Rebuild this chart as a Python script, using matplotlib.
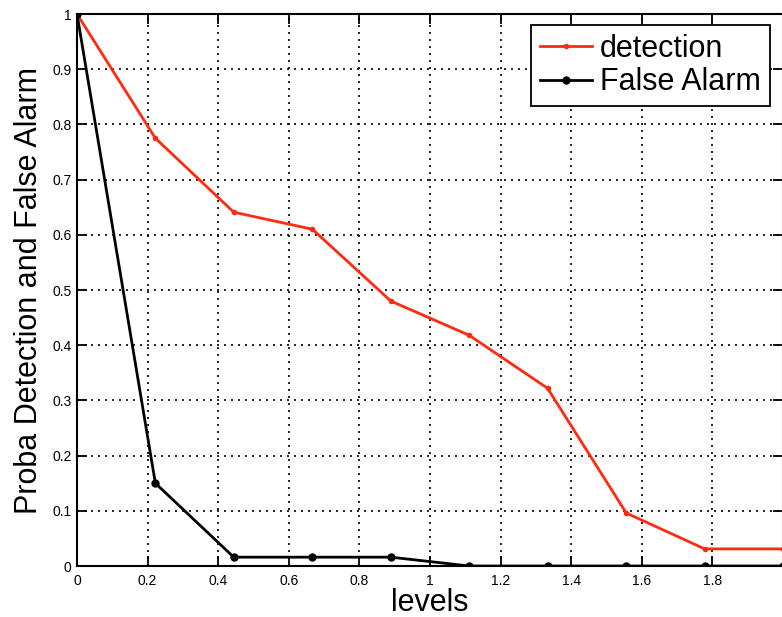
import matplotlib
matplotlib.use("Agg")
import matplotlib.pyplot as plt

plt.rcParams["font.family"] = ["Liberation Sans", "DejaVu Sans"]

# levels (10 thresholds) and the two probabilities
levels = [0.0, 0.222, 0.444, 0.667, 0.889, 1.111, 1.333, 1.556, 1.778, 2.0]
detection = [1.0, 0.775, 0.641, 0.610, 0.480, 0.418, 0.322, 0.096, 0.031, 0.031]
false_alarm = [1.0, 0.150, 0.016, 0.016, 0.016, 0.0, 0.0, 0.0, 0.0, 0.0]

x_ticks = [0, 0.2, 0.4, 0.6, 0.8, 1, 1.2, 1.4, 1.6, 1.8, 2]
# the "2" label falls outside the cropped original, so it is left blank
x_tick_labels = ["0", "0.2", "0.4", "0.6", "0.8", "1", "1.2", "1.4", "1.6", "1.8", ""]
y_ticks = [0, 0.1, 0.2, 0.3, 0.4, 0.5, 0.6, 0.7, 0.8, 0.9, 1]
y_tick_labels = ["0", "0.1", "0.2", "0.3", "0.4", "0.5", "0.6", "0.7", "0.8", "0.9", "1"]

W, H = 782, 617
fig = plt.figure(figsize=(W / 100, H / 100), dpi=100)
# axes runs slightly past the right border, as in the cropped original
ax = fig.add_axes([77 / W, 1 - 566 / H, 706 / W, 552 / H])

ax.plot(levels, detection, color="#ff2a10", lw=2, marker=".", ms=6,
        label="detection", zorder=3)
ax.plot(levels, false_alarm, color="black", lw=2, marker=".", ms=10,
        label="False Alarm", zorder=3)

ax.set_xlim(0, 2)
ax.set_ylim(0, 1)
ax.set_xticks(x_ticks)
ax.set_xticklabels(x_tick_labels)
ax.set_yticks(y_ticks)
ax.set_yticklabels(y_tick_labels)
ax.tick_params(direction="in", length=7, width=1.3, labelsize=10,
               top=True, right=True, colors="black")
ax.tick_params(axis="x", pad=6)
ax.tick_params(axis="y", pad=4)

ax.grid(True, color="black", linestyle=(0, (1.2, 3)), linewidth=1.2)
for sp in ax.spines.values():
    sp.set_linewidth(1.5)
    sp.set_color("black")

ax.set_xlabel("levels", fontsize=22, labelpad=0)
ax.set_ylabel("Proba Detection and False Alarm", fontsize=22, labelpad=6)

leg = ax.legend(loc="upper right", bbox_to_anchor=(770 / W, 1 - 25 / H),
                bbox_transform=fig.transFigure, borderaxespad=0,
                fontsize=22, fancybox=False, framealpha=1, edgecolor="black",
                handlelength=1.7, handletextpad=0.25, borderpad=0.3,
                labelspacing=0.1)
leg.get_frame().set_linewidth(1.3)

fig.savefig("out.png", dpi=100)
